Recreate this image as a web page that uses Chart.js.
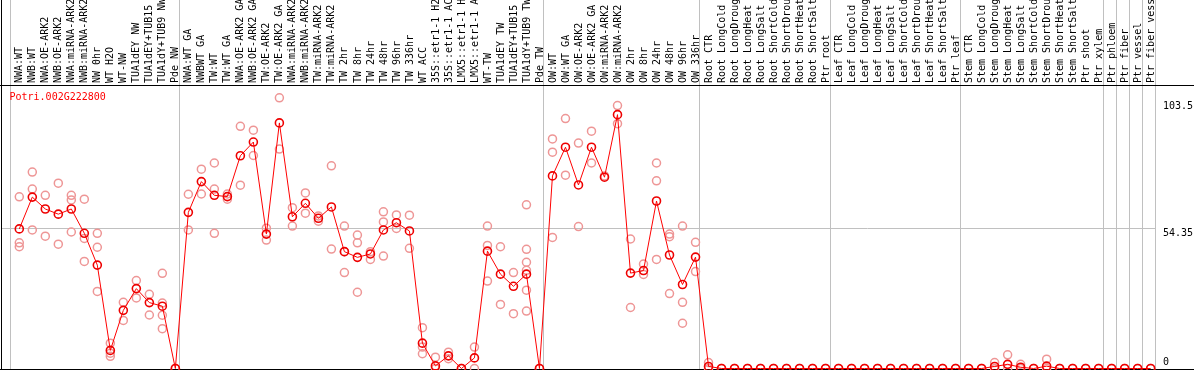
<!DOCTYPE html>
<html><head><meta charset="utf-8">
<script src="https://cdn.jsdelivr.net/npm/chart.js@4/dist/chart.umd.min.js"></script>
<style>html,body{margin:0;padding:0;background:#fff;overflow:hidden}canvas{display:block}</style>
</head><body>
<canvas id="c" width="1194" height="370"></canvas>
<script>
const geneId = "Potri.002G222800";

const categories = [
  "NWA:WT","NWB:WT","NWA:OE-ARK2","NWB:OE-ARK2","NWA:miRNA-ARK2","NWB:miRNA-ARK2","NW 0hr","WT H2O","WT-NW","TUA1dEY NW","TUA1dEY+TUB15 NW","TUA1dY+TUB9 NW","Pde NW",
  "NWA:WT GA","NWBWT GA","TW:WT","TW:WT GA","NWA:OE-ARK2 GA","NWB:OE-ARK2 GA","TW:OE-ARK2","TW:OE-ARK2 GA","NWA:miRNA-ARK2 GA","NWB:miRNA-ARK2 GA","TW:miRNA-ARK2","TW:miRNA-ARK2",
  "TW 2hr","TW 8hr","TW 24hr","TW 48hr","TW 96hr","TW 336hr","WT ACC","35S::etr1-1 H2O","35S::etr1-1 ACC","LMX5::etr1-1 H2O","LMX5::etr1-1 ACC","WT-TW","TUA1dEY TW","TUA1dEY+TUB15 TW","TUA1dY+TUB9 TW","Pde TW",
  "OW:WT","OW:WT GA","OW:OE-ARK2","OW:OE-ARK2 GA","OW:miRNA-ARK2","OW:miRNA-ARK2","OW 2hr","OW 8hr","OW 24hr","OW 48hr","OW 96hr","OW 336hr",
  "Root CTR","Root LongCold","Root LongDrought","Root LongHeat","Root LongSalt","Root ShortCold","Root ShortDrought","Root ShortHeat","Root ShortSalt","Ptr root",
  "Leaf CTR","Leaf LongCold","Leaf LongDrought","Leaf LongHeat","Leaf LongSalt","Leaf ShortCold","Leaf ShortDrought","Leaf ShortHeat","Leaf ShortSalt","Ptr leaf",
  "Stem CTR","Stem LongCold","Stem LongDrought","Stem LongHeat","Stem LongSalt","Stem ShortCold","Stem ShortDrought","Stem ShortHeat","Stem ShortSalt","Ptr shoot",
  "Ptr xylem","Ptr phloem","Ptr fiber","Ptr vessel","Ptr fiber vessel"
];

const means = [
  54.0, 66.3, 61.7, 59.7, 61.7, 52.3, 40.0, 7.0, 22.5, 30.9, 25.5, 24.1, 0,
  60.4, 72.3, 67.0, 66.5, 82.3, 87.6, 52.0, 95.0, 58.7, 63.9, 58.1, 62.5,
  45.2, 43.0, 44.3, 53.6, 56.4, 53.2, 9.8, 1.0, 4.9, 0, 4.1, 45.4, 36.5, 31.8, 36.5, 0,
  74.5, 85.6, 71.0, 85.6, 74.0, 98.2, 36.9, 37.9, 64.8, 43.9, 32.5, 43.1,
  0.8, 0, 0, 0, 0, 0, 0, 0, 0, 0,
  0, 0, 0, 0, 0, 0, 0, 0, 0, 0,
  0, 0, 0.8, 1.6, 0.5, 0, 0.9, 0, 0, 0,
  0, 0, 0, 0, 0
];

const replicates = [
  [66.4,48.6,47.1],[76.0,69.4,53.6],[67.0,51.2],[71.7,48.1],[67.0,65.2,52.8],[65.5,50.3,41.4],[52.3,46.9,29.8],[9.8,5.9,4.7],[25.6,18.6],[34.0,27.3],[28.7,20.7],[36.8,25.3,20.6,15.4],[0],
  [67.4,53.6],[77.1,67.5],[79.5,69.4,52.3],[67.5,65.5],[93.7,70.9],[92.2,82.4],[54.3,49.7],[104.7,84.9],[62.2,55.1],[67.9,60.1],[59.0,57.0],[78.4,46.2],
  [55.1,45.2,37.1],[51.6,48.6,29.5],[45.2,42.2],[60.6,56.7,43.5],[59.4,54.2],[59.3,46.5],[15.8,8.3,5.7],[4.4,0],[6.3,3.8],[0],[8.3,0],[55.1,47.6,33.8],[47.1,24.8],[37.1,21.2],[63.3,46.1,41.1,38.0,30.3,22.2],[0],
  [88.8,83.7,50.7],[96.7,74.8],[87.2,54.9],[91.8,79.5],[74.5],[101.7,94.7],[50.1,23.6],[40.4,36.4],[79.5,72.6,42.2],[52.0,51.0,29.0],[55.1,25.6,17.5],[48.8,37.5],
  [2.3,0],[0],[0],[0],[0],[0],[0],[0],[0],[0],
  [0],[0],[0],[0],[0],[0],[0],[0],[0],[0],
  [0],[0],[2.3,0],[5.3,0],[1.6,0],[0],[3.6,0],[0],[0],[0],
  [0],[0],[0],[0],[0]
];

const yTickValues = [0, 54.35, 103.5];
const yTickLabels = ["0", "54.35", "103.5"];
const groupEnds = [0, 13, 41, 53, 63, 73, 84, 85, 86, 87, 88];

const meanPoints = means.map((v, i) => ({x: i + 1, y: v}));
const repPoints = [];
replicates.forEach((arr, i) => arr.forEach(v => repPoints.push({x: i + 1, y: v})));

const FONT = '10px "DejaVu Sans Mono", "Liberation Mono", monospace';

const framePlugin = {
  id: 'frame',
  beforeDatasetsDraw(chart) {
    const {ctx, chartArea: a, scales: {x, y}} = chart;
    const W = chart.width;
    ctx.save();
    ctx.strokeStyle = '#c0c0c0';
    ctx.lineWidth = 1;
    ctx.beginPath();
    yTickValues.forEach(v => {
      if (v === 0 || v === yTickValues[yTickValues.length - 1]) return;
      const gy = Math.round(y.getPixelForValue(v)) + 0.5;
      ctx.moveTo(2, gy); ctx.lineTo(a.right, gy);
    });
    groupEnds.forEach(k => {
      const px = Math.round(x.getPixelForValue(k + 0.38)) - 0.5;
      ctx.moveTo(px, 0); ctx.lineTo(px, a.bottom);
    });
    ctx.stroke();
    ctx.fillStyle = '#000';
    ctx.fillRect(0, 85, W, 1);
    ctx.fillRect(0, 369, W, 1);
    ctx.fillRect(1, 0, 1, chart.height);
    ctx.restore();
  },
  afterDraw(chart) {
    const {ctx, chartArea: a, scales: {x, y}} = chart;
    ctx.save();
    ctx.font = FONT;
    ctx.fillStyle = '#000';
    ctx.textAlign = 'left';
    ctx.textBaseline = 'middle';
    categories.forEach((lab, i) => {
      const px = x.getPixelForValue(i + 1) + 0.5;
      ctx.save();
      ctx.translate(px, 83);
      ctx.rotate(-Math.PI / 2);
      ctx.fillText(lab, 0, 0);
      ctx.restore();
    });
    yTickValues.forEach((v, i) => {
      let ty = y.getPixelForValue(v) + 5;
      if (ty > 362) ty = 362;
      ctx.fillText(yTickLabels[i], 1163, ty);
    });
    ctx.fillStyle = '#ff0000';
    ctx.fillText(geneId, 9.5, 97);
    ctx.restore();
  }
};

new Chart(document.getElementById('c'), {
  type: 'scatter',
  data: {
    datasets: [
      {
        label: 'mean',
        data: meanPoints,
        showLine: true,
        borderColor: '#ff0000',
        borderWidth: 1,
        pointRadius: 4,
        pointBorderWidth: 1.6,
        pointBorderColor: '#ee0000',
        pointBackgroundColor: 'rgba(0,0,0,0)',
        order: 0,
        clip: false
      },
      {
        label: 'replicates',
        data: repPoints,
        showLine: false,
        pointRadius: 4,
        pointBorderWidth: 1.5,
        pointBorderColor: 'rgb(238,150,150)',
        pointBackgroundColor: 'rgba(0,0,0,0)',
        order: 1,
        clip: false
      }
    ]
  },
  options: {
    responsive: false,
    animation: false,
    events: [],
    layout: {autoPadding: false, padding: {left: 10, right: 38, top: 86, bottom: 0}},
    plugins: {legend: {display: false}, title: {display: false}, tooltip: {enabled: false}},
    scales: {
      x: {type: 'linear', display: false, min: 0.285, max: 88.41},
      y: {type: 'linear', display: false, min: -0.58, max: 109.28}
    }
  },
  plugins: [framePlugin]
});
</script>
</body></html>
